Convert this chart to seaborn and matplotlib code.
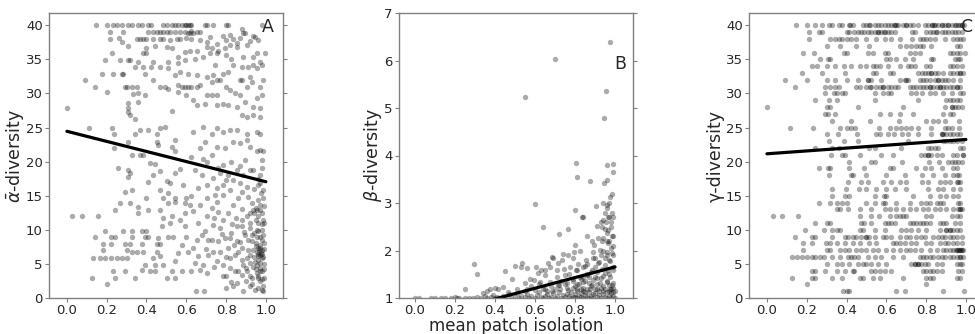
import matplotlib
matplotlib.use("Agg")
import matplotlib.pyplot as plt
import seaborn as sns
import pandas as pd

# ---------------- data ----------------
# Panel A: (mean patch isolation, mean alpha diversity)
A_pts = [
    (0.146, 40), (0.199, 40), (0.233, 40), (0.250, 40), (0.275, 40), (0.308, 40), (0.325, 40),
    (0.358, 40), (0.375, 40), (0.409, 40), (0.425, 40), (0.484, 40), (0.501, 40), (0.526, 40),
    (0.543, 40), (0.559, 40), (0.576, 40), (0.593, 40), (0.610, 40), (0.618, 40), (0.626, 40),
    (0.693, 40), (0.702, 40), (0.735, 40), (0.802, 40), (0.811, 40), (0.978, 40), (0.60, 40),
    (0.216, 39), (0.283, 39), (0.409, 39), (0.434, 39), (0.451, 39), (0.467, 39), (0.484, 39),
    (0.501, 39), (0.518, 39), (0.543, 39), (0.568, 39), (0.593, 39), (0.610, 38.9), (0.626, 39.2),
    (0.635, 38.8), (0.652, 39), (0.668, 39), (0.62, 38.9),
    (0.216, 38), (0.263, 38.2), (0.350, 38), (0.367, 38), (0.384, 38), (0.400, 38), (0.434, 38),
    (0.467, 38), (0.484, 38), (0.518, 37.9), (0.551, 38), (0.568, 38), (0.601, 38.1), (0.626, 38),
    (0.668, 37.8), (0.702, 37.6), (0.719, 38.3), (0.752, 37.2), (0.786, 38.5), (0.802, 37.9),
    (0.819, 38.6), (0.853, 37.4), (0.869, 38.1), (0.894, 38.8), (0.920, 37.7), (0.936, 38.4),
    (0.878, 39.5), (0.886, 38.8), (0.836, 38.0), (0.945, 38.3), (0.961, 37.8),
    (0.275, 37.6), (0.308, 36.9), (0.400, 36.7), (0.442, 36.9), (0.501, 36.8), (0.526, 36.7),
    (0.593, 36.1), (0.618, 36.2), (0.652, 36.3), (0.702, 36.8), (0.727, 36.6), (0.760, 36.3),
    (0.794, 36.6), (0.819, 37.1), (0.853, 36.8), (0.903, 37.1), (0.995, 35.9), (0.229, 35.9),
    (0.384, 35.9), (0.400, 35.9), (0.559, 35.4), (0.593, 34.9), (0.643, 35.0), (0.685, 35.4),
    (0.719, 35.9), (0.752, 35.9), (0.802, 35.6), (0.827, 35.1), (0.886, 35.4), (0.936, 35.4),
    (0.953, 35.9), (0.191, 34.9), (0.266, 34.9), (0.308, 34.9), (0.317, 34.9), (0.358, 34.6),
    (0.434, 34.6), (0.509, 34.6), (0.559, 34.4), (0.744, 34.1), (0.836, 34.1), (0.878, 33.9),
    (0.911, 33.9), (0.936, 34.1), (0.970, 34.6), (0.978, 34.1), (0.953, 33.7), (0.174, 32.9),
    (0.233, 32.9), (0.275, 32.9), (0.283, 32.9), (0.342, 33.9), (0.384, 33.9), (0.425, 33.9),
    (0.467, 33.9), (0.509, 33.7), (0.543, 32.7), (0.568, 33.2), (0.610, 32.9), (0.652, 32.7),
    (0.702, 32.4), (0.735, 32.7), (0.786, 32.9), (0.811, 33.2), (0.869, 32.0), (0.878, 32.0),
    (0.920, 32.4), (0.987, 32.0), (0.090, 32.0), (0.141, 31.0), (0.199, 30.2), (0.291, 31.0),
    (0.300, 31.0), (0.325, 31.0), (0.350, 31.0), (0.358, 30.0), (0.333, 29.9), (0.392, 29.8),
    (0.392, 32.9), (0.434, 32.0), (0.467, 31.0), (0.492, 31.0), (0.509, 30.7), (0.559, 31.2),
    (0.576, 31.0), (0.593, 31.0), (0.610, 31.0), (0.626, 31.0), (0.652, 31.0), (0.668, 31.2),
    (0.559, 30.2), (0.601, 29.8), (0.635, 29.0), (0.702, 29.8), (0.727, 29.8), (0.752, 29.8),
    (0.727, 31.7), (0.752, 32.0), (0.769, 32.0), (0.802, 31.0), (0.819, 30.5), (0.844, 30.0),
    (0.869, 29.8), (0.903, 31.0), (0.928, 31.7), (0.970, 31.0), (0.978, 29.8), (0.953, 29.3),
    (0.752, 28.3), (0.786, 28.5), (0.811, 28.3), (0.853, 28.0), (0.894, 28.8), (0.936, 28.0),
    (0.970, 27.8), (0.002, 27.8), (0.308, 27.8), (0.308, 27.3), (0.317, 26.8), (0.308, 28.6),
    (0.358, 28.8), (0.529, 27.4), (0.652, 28.3), (0.693, 28.5), (0.878, 26.8), (0.903, 26.6),
    (0.936, 26.8), (0.970, 26.6), (0.342, 26.3), (0.342, 24.1), (0.367, 24.6), (0.409, 24.6),
    (0.451, 24.1), (0.467, 24.9), (0.492, 25.1), (0.543, 23.2), (0.635, 24.4), (0.685, 25.1),
    (0.727, 24.0), (0.752, 24.9), (0.786, 24.4), (0.819, 24.6), (0.853, 24.6), (0.903, 24.1),
    (0.953, 24.4), (0.970, 24.1), (0.903, 23.2), (0.869, 22.7), (0.112, 24.9), (0.229, 24.9),
    (0.236, 24.1), (0.308, 22.9), (0.451, 22.9), (0.459, 22.4), (0.526, 22.2), (0.543, 21.5),
    (0.693, 22.9), (0.752, 22.2), (0.794, 22.0), (0.836, 22.9), (0.920, 22.2), (0.953, 21.5),
    (0.970, 21.7), (0.987, 21.5), (0.626, 20.7), (0.668, 22.0), (0.727, 21.0), (0.325, 21.0),
    (0.367, 21.0), (0.236, 22.0),
    (0.384, 21.0), (0.417, 19.8), (0.442, 19.6), (0.258, 19.0), (0.308, 18.8), (0.317, 18.3),
    (0.308, 17.8), (0.434, 18.0), (0.409, 17.0), (0.467, 18.6), (0.501, 17.2), (0.543, 18.3),
    (0.568, 18.9), (0.643, 18.8), (0.685, 20.4), (0.702, 20.0), (0.735, 17.6), (0.760, 19.0),
    (0.786, 19.5), (0.802, 17.3), (0.827, 20.0), (0.853, 18.8), (0.869, 19.3), (0.894, 20.2),
    (0.920, 18.8), (0.936, 18.8), (0.978, 20.2), (0.970, 16.8), (0.961, 16.6), (0.975, 15.4),
    (0.961, 14.4), (0.970, 13.7), (0.953, 12.9), (0.936, 12.9), (0.920, 12.4), (0.903, 12.0),
    (0.878, 11.5), (0.853, 10.5), (0.961, 11.0), (0.978, 10.0), (0.953, 9.0), (0.928, 9.3),
    (0.911, 8.5), (0.936, 7.1), (0.953, 6.8), (0.970, 6.3), (0.978, 7.1), (0.961, 6.1),
    (0.970, 5.1), (0.953, 4.9), (0.978, 3.9), (0.961, 2.9), (0.945, 1.2), (0.978, 1.2),
    (0.987, 1.0), (0.920, 6.3), (0.903, 5.8), (0.886, 4.9), (0.878, 3.4), (0.853, 2.2),
    (0.819, 4.4), (0.802, 3.2), (0.802, 1.5), (0.836, 1.7), (0.886, 1.0), (0.844, 6.3),
    (0.811, 7.3), (0.794, 8.8), (0.769, 10.2), (0.786, 11.5), (0.811, 12.4), (0.836, 13.7),
    (0.861, 14.6), (0.878, 15.6), (0.903, 16.3), (0.819, 15.8), (0.786, 15.1), (0.752, 14.1),
    (0.727, 13.2), (0.702, 12.0), (0.735, 10.7), (0.760, 8.3), (0.735, 6.8), (0.710, 6.3),
    (0.685, 4.9), (0.668, 4.1), (0.702, 3.6), (0.752, 5.4), (0.786, 4.9), (0.769, 6.8),
    (0.727, 8.5), (0.693, 9.8), (0.652, 8.5), (0.635, 7.3), (0.643, 5.1), (0.626, 3.9),
    (0.648, 1.0), (0.688, 1.0), (0.677, 9.3), (0.660, 11.0), (0.635, 12.7), (0.668, 13.7),
    (0.702, 14.6), (0.744, 15.1), (0.601, 14.6), (0.618, 13.7), (0.593, 12.4), (0.568, 11.5),
    (0.593, 10.5), (0.601, 9.0), (0.576, 7.8), (0.610, 6.8), (0.559, 6.6), (0.543, 5.4),
    (0.576, 3.9), (0.526, 3.9), (0.501, 2.9), (0.543, 2.9), (0.484, 4.9), (0.467, 6.1),
    (0.451, 6.8), (0.434, 5.9), (0.442, 4.9), (0.417, 3.9), (0.442, 3.9), (0.392, 4.9),
    (0.375, 4.1), (0.342, 2.9), (0.291, 3.9), (0.233, 3.9), (0.241, 2.9), (0.199, 2.0),
    (0.124, 2.9), (0.132, 5.8), (0.166, 5.9), (0.191, 5.8), (0.224, 5.9), (0.250, 5.9),
    (0.275, 5.9), (0.300, 5.9), (0.325, 6.8), (0.350, 6.8), (0.384, 6.8), (0.300, 7.1),
    (0.183, 7.0), (0.183, 7.9), (0.224, 7.9), (0.291, 7.9), (0.317, 7.9), (0.375, 7.9),
    (0.451, 7.9), (0.467, 7.9), (0.141, 8.9), (0.224, 8.9), (0.241, 8.9), (0.325, 8.9),
    (0.392, 8.9), (0.409, 8.9), (0.459, 8.8), (0.509, 8.9), (0.534, 8.9), (0.191, 9.9),
    (0.283, 9.9), (0.325, 9.9), (0.375, 9.9), (0.400, 9.9), (0.476, 10.5), (0.518, 11.0),
    (0.484, 11.7), (0.526, 12.0), (0.467, 12.9), (0.409, 12.9), (0.358, 13.4), (0.317, 13.9),
    (0.266, 13.9), (0.241, 12.9), (0.291, 15.6), (0.325, 15.8), (0.358, 12.4), (0.400, 14.6),
    (0.467, 15.8), (0.509, 15.4), (0.509, 13.9), (0.543, 14.6), (0.543, 14.1), (0.593, 13.9),
    (0.518, 16.8), (0.484, 14.6), (0.585, 16.6), (0.660, 16.1), (0.626, 14.9), (0.028, 12.0),
    (0.074, 12.0), (0.157, 12.0), (0.710, 8.5), (0.853, 8.3), (0.878, 7.3), (0.894, 9.3),
    (0.827, 9.5), (0.878, 10.5), (0.920, 11.0), (0.844, 3.9), (0.903, 3.9), (0.920, 3.2),
    (0.928, 2.0), (0.827, 2.4), (0.786, 3.2), (0.961, 5.6), (0.978, 5.8), (0.970, 4.4),
    (0.953, 3.6), (0.936, 4.6), (0.987, 1.7), (0.970, 7.8), (0.978, 8.5), (0.987, 9.3),
    (0.953, 10.0), (0.961, 12.0), (0.978, 12.4), (0.983, 14.6), (0.987, 15.8), (0.970, 18.0),
    (0.886, 18.0), (0.869, 16.8), (0.836, 17.3), (0.786, 16.6), (0.769, 18.3), (0.702, 16.6),
    (0.677, 18.0), (0.752, 16.1), (0.811, 18.0),
    (0.965, 7.0), (0.975, 6.6), (0.985, 6.0), (0.958, 7.4), (0.945, 5.3), (0.99, 5.0),
    (0.96, 3.3), (0.97, 2.5), (0.99, 3.0), (0.95, 8.0), (0.985, 11.5), (0.94, 12.5),
    (0.93, 14.0), (0.95, 13.2), (0.97, 12.9), (0.99, 13.5), (0.92, 10.2), (0.94, 9.6),
    (0.96, 9.8), (0.98, 10.8), (0.99, 8.0), (0.95, 7.6), (0.97, 7.3), (0.99, 7.2), (0.96, 6.5),
    (0.98, 6.4), (0.94, 6.0), (0.92, 5.2), (0.95, 4.2), (0.97, 4.0), (0.99, 4.3), (0.93, 3.0),
    (0.98, 2.8), (0.96, 1.5), (0.90, 2.5), (0.88, 5.6), (0.86, 6.8), (0.84, 7.8), (0.82, 8.8),
    (0.80, 6.0), (0.78, 9.4), (0.76, 12.6), (0.74, 11.8), (0.88, 13.0), (0.91, 14.8),
    (0.94, 16.0), (0.96, 17.5), (0.98, 19.0), (0.85, 11.8), (0.83, 10.8), (0.89, 9.7),
    (0.87, 8.2), (0.91, 7.0), (0.93, 8.4), (0.97, 9.0), (0.99, 11.0), (0.95, 11.5),
    (0.90, 4.4), (0.92, 1.8), (0.86, 4.0), (0.82, 5.8), (0.74, 4.6), (0.70, 7.2), (0.66, 6.2),
]

# Panel B: (mean patch isolation, beta diversity)
B_pts = [
    (0.975, 6.39), (0.70, 6.04), (0.55, 5.24), (0.955, 5.36), (0.945, 4.78),
    (0.803, 3.84), (0.812, 3.54), (0.875, 3.47), (0.962, 3.81), (0.988, 3.83), (0.988, 3.65),
    (0.945, 3.43), (0.962, 3.48), (0.983, 3.20), (0.975, 3.13), (0.972, 3.01), (0.942, 3.01),
    (0.958, 2.96), (0.903, 2.94), (0.600, 2.98), (0.800, 2.85), (0.833, 2.71), (0.838, 2.71),
    (0.950, 2.78), (0.983, 2.78), (0.967, 2.70), (0.955, 2.61), (0.980, 2.61), (0.908, 2.52),
    (0.933, 2.50), (0.967, 2.43), (0.642, 2.50), (0.767, 2.45), (0.722, 2.35), (0.862, 2.31),
    (0.958, 2.36), (0.987, 2.31), (0.917, 2.26), (0.942, 2.26), (0.887, 2.19), (0.933, 2.19),
    (0.967, 2.15), (0.988, 2.09), (0.897, 2.12), (0.800, 2.12), (0.825, 1.99), (0.797, 1.97),
    (0.892, 1.97), (0.925, 2.01), (0.958, 1.97), (0.983, 1.94), (0.742, 1.92), (0.767, 1.91),
    (0.692, 1.84), (0.733, 1.80), (0.792, 1.84), (0.855, 1.81), (0.900, 1.84), (0.950, 1.84),
    (0.975, 1.77), (0.917, 1.73), (0.858, 1.71), (0.817, 1.71), (0.713, 1.73), (0.683, 1.86),
    (0.667, 1.74), (0.533, 1.73), (0.530, 1.65), (0.558, 1.64), (0.605, 1.65), (0.630, 1.60),
    (0.652, 1.59), (0.675, 1.65), (0.708, 1.59), (0.745, 1.61), (0.775, 1.65), (0.805, 1.60),
    (0.842, 1.66), (0.883, 1.59), (0.933, 1.62), (0.967, 1.59), (0.992, 1.66), (0.500, 1.68),
    (0.450, 1.57), (0.297, 1.72), (0.308, 1.51), (0.483, 1.39), (0.575, 1.41), (0.617, 1.52),
    (0.650, 1.48), (0.708, 1.45), (0.750, 1.48), (0.792, 1.41), (0.825, 1.45), (0.858, 1.48),
    (0.900, 1.45), (0.942, 1.46), (0.975, 1.45), (0.550, 1.31), (0.595, 1.38), (0.625, 1.34),
    (0.675, 1.34), (0.717, 1.27), (0.758, 1.31), (0.808, 1.30), (0.842, 1.34), (0.883, 1.27),
    (0.925, 1.31), (0.958, 1.34), (0.987, 1.27), (0.442, 1.24), (0.417, 1.18), (0.375, 1.19),
    (0.400, 1.22), (0.358, 1.15), (0.342, 1.11), (0.250, 1.19), (0.467, 1.13), (0.508, 1.18),
    (0.558, 1.20), (0.600, 1.17), (0.642, 1.18), (0.683, 1.15), (0.725, 1.18), (0.767, 1.17),
    (0.808, 1.18), (0.842, 1.15), (0.875, 1.20), (0.908, 1.18), (0.942, 1.15), (0.975, 1.18),
    (0.992, 1.13),
    (0.0, 1.0), (0.02, 1.0), (0.08, 1.0), (0.10, 1.0), (0.13, 1.01), (0.15, 1.0), (0.18, 1.01),
    (0.20, 1.03), (0.21, 1.01), (0.22, 1.0), (0.25, 1.0), (0.27, 1.01), (0.29, 1.0), (0.31, 1.02),
    (0.33, 1.0), (0.35, 1.04), (0.36, 1.01), (0.38, 1.02), (0.39, 1.06), (0.40, 1.0), (0.41, 1.03),
    (0.42, 1.01), (0.44, 1.05), (0.45, 1.02), (0.47, 1.08), (0.48, 1.0), (0.50, 1.03), (0.51, 1.1),
    (0.52, 1.0), (0.53, 1.05), (0.55, 1.02), (0.56, 1.09), (0.57, 1.0), (0.58, 1.04), (0.60, 1.01),
    (0.61, 1.07), (0.62, 1.12), (0.63, 1.02), (0.64, 1.0), (0.65, 1.05), (0.66, 1.09), (0.67, 1.01),
    (0.68, 1.03), (0.69, 1.1), (0.70, 1.0),
    (0.71, 1.04), (0.72, 1.12), (0.73, 1.0), (0.74, 1.07), (0.75, 1.02), (0.76, 1.21), (0.77, 1.05),
    (0.78, 1.0), (0.78, 1.12), (0.79, 1.03), (0.80, 1.08), (0.80, 1.25), (0.81, 1.0), (0.81, 1.15),
    (0.82, 1.05), (0.82, 1.3), (0.83, 1.02), (0.83, 1.1), (0.84, 1.22), (0.84, 1.0), (0.85, 1.07),
    (0.85, 1.35), (0.86, 1.03), (0.86, 1.18), (0.87, 1.0), (0.87, 1.12), (0.88, 1.26), (0.88, 1.05),
    (0.89, 1.0), (0.89, 1.38), (0.90, 1.1), (0.90, 1.2), (0.91, 1.02), (0.91, 1.3), (0.92, 1.06),
    (0.92, 1.15), (0.93, 1.0), (0.93, 1.42), (0.94, 1.08), (0.94, 1.25), (0.95, 1.03), (0.95, 1.18),
    (0.96, 1.0), (0.96, 1.35), (0.96, 1.12), (0.97, 1.05), (0.97, 1.28), (0.97, 1.5), (0.98, 1.0),
    (0.98, 1.2), (0.98, 1.1), (0.99, 1.04), (0.99, 1.32), (0.99, 1.6), (1.0, 1.0), (1.0, 1.15),
    (0.75, 1.3), (0.79, 1.35), (0.83, 1.4), (0.87, 1.45), (0.91, 1.55), (0.95, 1.7), (0.97, 1.8),
    (0.99, 1.9), (0.98, 2.05), (0.96, 1.9), (0.94, 2.0), (0.92, 1.75), (0.90, 1.65), (0.88, 1.55),
    (0.86, 1.5), (0.84, 1.45), (0.70, 1.2), (0.68, 1.25), (0.65, 1.2), (0.62, 1.3), (0.58, 1.25),
    (0.55, 1.15), (0.73, 1.35), (0.77, 1.5), (0.81, 1.6), (0.85, 1.68), (0.89, 1.85), (0.93, 1.9),
    (0.97, 2.2), (0.99, 2.3), (0.95, 2.45), (0.93, 2.6), (0.98, 2.5), (0.96, 2.2), (0.99, 2.7),
    (0.94, 2.65), (0.96, 2.9), (0.97, 2.7),
    (0.76, 1.08), (0.80, 1.02), (0.85, 1.12), (0.89, 1.08), (0.93, 1.22), (0.97, 1.14), (0.99, 1.22),
    (0.72, 1.28), (0.66, 1.15), (0.87, 1.32), (0.91, 1.42), (0.95, 1.52), (0.83, 1.2), (0.79, 1.22),
]

# Panel C: gamma diversity (integer levels) -> isolation values read per level
g40 = [0.145, 0.20, 0.24, 0.275, 0.31, 0.325, 0.36, 0.375, 0.415, 0.435, 0.485, 0.50, 0.515, 0.545,
       0.56, 0.575, 0.595, 0.61, 0.625, 0.645, 0.66, 0.685, 0.70, 0.72, 0.735, 0.76, 0.795, 0.81,
       0.83, 0.845, 0.86, 0.88, 0.895, 0.91, 0.93, 0.945, 0.96, 0.98, 0.99,
       0.42, 0.52, 0.64, 0.65, 0.70, 0.83, 0.84, 0.88, 0.91, 0.95, 0.97, 0.98]
g39 = [0.21, 0.26, 0.275, 0.40, 0.415, 0.44, 0.46, 0.475, 0.49, 0.51, 0.525, 0.545, 0.56, 0.575,
       0.595, 0.61, 0.625, 0.645, 0.73, 0.745, 0.80, 0.82, 0.835, 0.855, 0.88, 0.895, 0.91, 0.93,
       0.945, 0.96, 0.98, 0.56, 0.59, 0.85]
g38 = [0.21, 0.315, 0.34, 0.36, 0.375, 0.40, 0.425, 0.45, 0.50, 0.55, 0.595, 0.625, 0.67, 0.73,
       0.77, 0.785, 0.80, 0.82, 0.845, 0.895, 0.935, 0.955, 0.97, 0.985]
g37 = [0.30, 0.365, 0.45, 0.515, 0.67, 0.70, 0.725, 0.75, 0.77, 0.785, 0.825, 0.955, 0.97]
g36 = [0.18, 0.235, 0.385, 0.40, 0.51, 0.535, 0.595, 0.61, 0.72, 0.745, 0.77, 0.92, 0.935, 0.955,
       0.97, 0.995]
g35 = [0.265, 0.305, 0.315, 0.60, 0.62, 0.65, 0.695, 0.735, 0.825, 0.835, 0.945, 0.96, 0.97]
g34 = [0.225, 0.25, 0.30, 0.34, 0.385, 0.425, 0.47, 0.50, 0.535, 0.55, 0.57, 0.61, 0.67, 0.71,
       0.725, 0.745, 0.80, 0.82, 0.92, 0.935, 0.955, 0.98]
g33 = [0.175, 0.275, 0.39, 0.535, 0.55, 0.62, 0.635, 0.76, 0.78, 0.795, 0.81, 0.825, 0.845, 0.86,
       0.885, 0.92, 0.935, 0.955, 0.97, 0.985, 0.825, 0.97]
g32 = [0.09, 0.20, 0.30, 0.34, 0.40, 0.46, 0.51, 0.525, 0.575, 0.67, 0.695, 0.71, 0.77, 0.785,
       0.80, 0.82, 0.845, 0.86, 0.88, 0.895, 0.91, 0.935, 0.97, 0.51, 0.70, 0.86]
g31 = [0.14, 0.29, 0.315, 0.34, 0.36, 0.45, 0.47, 0.50, 0.525, 0.55, 0.57, 0.585, 0.61, 0.625,
       0.645, 0.66, 0.72, 0.735, 0.75, 0.77, 0.785, 0.80, 0.82, 0.835, 0.855, 0.87, 0.885, 0.90,
       0.92, 0.935, 0.955, 0.97, 0.52, 0.585, 0.82, 0.87, 0.955]
g30 = [0.29, 0.335, 0.35, 0.375, 0.39, 0.545, 0.585, 0.61, 0.625, 0.725, 0.75, 0.78, 0.82, 0.845,
       0.885, 0.93, 0.97, 0.985]
g29 = [0.24, 0.31, 0.35, 0.545, 0.76, 0.90, 0.92, 0.935, 0.955, 0.97]
g28 = [0.0, 0.30, 0.315, 0.46, 0.685, 0.895, 0.93, 0.945, 0.96, 0.98, 0.93]
g27 = [0.29, 0.305, 0.34, 0.57, 0.62, 0.67, 0.735, 0.885, 0.92, 0.935]
g26 = [0.325, 0.425, 0.52, 0.665, 0.80, 0.835, 0.86, 0.895, 0.965]
g25 = [0.115, 0.23, 0.365, 0.405, 0.425, 0.445, 0.565, 0.62, 0.65, 0.675, 0.70, 0.725, 0.76,
       0.825, 0.895, 0.91, 0.93, 0.965]
g24 = [0.30, 0.355, 0.455, 0.55, 0.57, 0.61, 0.64, 0.68, 0.71, 0.76, 0.825, 0.88, 0.885, 0.90,
       0.92, 0.935, 0.955, 0.97, 0.88]
g23 = [0.31, 0.385, 0.46, 0.71, 0.885, 0.90, 0.92, 0.935, 0.955, 0.98]
g22 = [0.24, 0.325, 0.36, 0.515, 0.545, 0.675, 0.81, 0.825, 0.845, 0.86, 0.97, 0.985]
g21 = [0.32, 0.375, 0.39, 0.47, 0.575, 0.635, 0.775, 0.795, 0.81, 0.825, 0.855, 0.88, 0.935,
       0.955, 0.985, 0.81, 0.985]
g20 = [0.415, 0.525, 0.545, 0.68, 0.815, 0.865, 0.91, 0.93, 0.945, 0.96, 0.98]
g19 = [0.26, 0.305, 0.315, 0.415, 0.49, 0.62, 0.635, 0.75, 0.795, 0.825, 0.88, 0.935, 0.955]
g18 = [0.31, 0.425, 0.435, 0.50, 0.60, 0.695, 0.78, 0.835, 0.895, 0.935, 0.955, 0.965]
g17 = [0.41, 0.475, 0.51, 0.585, 0.625, 0.67, 0.70, 0.78, 0.81, 0.87, 0.895, 0.92, 0.955, 0.97,
       0.96]
g16 = [0.325, 0.395, 0.465, 0.50, 0.55, 0.60, 0.645, 0.70, 0.81, 0.86, 0.885, 0.935, 0.97]
g15 = [0.325, 0.39, 0.415, 0.545, 0.59, 0.60, 0.735, 0.82, 0.87, 0.90, 0.935, 0.96]
g14 = [0.26, 0.315, 0.35, 0.375, 0.405, 0.50, 0.545, 0.585, 0.595, 0.65, 0.72, 0.775, 0.80, 0.82,
       0.855, 0.87, 0.885, 0.96, 0.97]
g13 = [0.35, 0.365, 0.41, 0.47, 0.525, 0.595, 0.62, 0.65, 0.685, 0.72, 0.75, 0.785, 0.81, 0.845,
       0.87, 0.90, 0.935, 0.96, 0.97, 0.98, 0.97]
g12 = [0.03, 0.075, 0.155, 0.47, 0.525, 0.565, 0.62, 0.65, 0.67, 0.685, 0.70, 0.80, 0.825, 0.93,
       0.955, 0.97]
g11 = [0.24, 0.30, 0.315, 0.475, 0.49, 0.525, 0.595, 0.61, 0.625, 0.645, 0.72, 0.735, 0.75, 0.77,
       0.785, 0.80, 0.82, 0.87, 0.885, 0.90, 0.945, 0.97]
g10 = [0.19, 0.285, 0.325, 0.35, 0.365, 0.47, 0.485, 0.545, 0.595, 0.675, 0.70, 0.725, 0.76,
       0.80, 0.87, 0.90, 0.92, 0.935, 0.955, 0.97, 0.90, 0.92]
g9 = [0.14, 0.225, 0.24, 0.325, 0.39, 0.41, 0.435, 0.45, 0.475, 0.50, 0.515, 0.545, 0.585, 0.60,
      0.625, 0.67, 0.70, 0.72, 0.75, 0.775, 0.795, 0.835, 0.86, 0.88, 0.895, 0.92, 0.935, 0.955,
      0.98, 0.50]
g8 = [0.18, 0.225, 0.295, 0.315, 0.35, 0.39, 0.435, 0.47, 0.515, 0.55, 0.635, 0.65, 0.67, 0.695,
      0.725, 0.75, 0.80, 0.825, 0.87, 0.895, 0.91, 0.935, 0.955, 0.98]
g7 = [0.18, 0.30, 0.315, 0.365, 0.39, 0.415, 0.45, 0.475, 0.50, 0.535, 0.56, 0.60, 0.635, 0.67,
      0.70, 0.72, 0.745, 0.775, 0.82, 0.855, 0.885, 0.90, 0.92, 0.935, 0.955, 0.97, 0.98, 0.95,
      0.96, 0.975, 0.985, 0.965]
g6 = [0.125, 0.15, 0.175, 0.20, 0.225, 0.24, 0.265, 0.285, 0.325, 0.365, 0.41, 0.425, 0.44,
      0.46, 0.51, 0.545, 0.575, 0.635, 0.685, 0.77, 0.785, 0.80, 0.82, 0.835, 0.86, 0.88, 0.895,
      0.92, 0.935, 0.955, 0.97, 0.985, 0.97]
g5 = [0.30, 0.35, 0.375, 0.415, 0.46, 0.485, 0.50, 0.525, 0.56, 0.60, 0.725, 0.745, 0.76, 0.775,
      0.795, 0.81, 0.855, 0.88, 0.955, 0.97, 0.98, 0.745, 0.76]
g4 = [0.225, 0.24, 0.29, 0.35, 0.39, 0.435, 0.44, 0.525, 0.545, 0.57, 0.595, 0.625, 0.785, 0.80,
      0.82, 0.835, 0.855, 0.88, 0.96, 0.98]
g3 = [0.125, 0.225, 0.24, 0.325, 0.375, 0.47, 0.485, 0.535, 0.57, 0.685, 0.80, 0.82, 0.835,
      0.955, 0.97]
g2 = [0.20, 0.80]
g1 = [0.38, 0.40, 0.415, 0.65, 0.695, 0.885, 0.99]

C_levels = list(range(40, 0, -1))
C_rows = [g40, g39, g38, g37, g36, g35, g34, g33, g32, g31, g30, g29, g28, g27, g26, g25, g24,
          g23, g22, g21, g20, g19, g18, g17, g16, g15, g14, g13, g12, g11, g10, g9, g8, g7, g6,
          g5, g4, g3, g2, g1]

# Fitted regression lines (endpoints)
fit_x = [0.0, 1.0]
A_fit = [24.45, 17.05]
B_fit = [0.53, 1.655]
C_fit = [21.15, 23.25]

x_ticks = [0.0, 0.2, 0.4, 0.6, 0.8, 1.0]
A_ticks = [0, 5, 10, 15, 20, 25, 30, 35, 40]
B_ticks = [1, 2, 3, 4, 5, 6, 7]
C_ticks = [0, 5, 10, 15, 20, 25, 30, 35, 40]

# ---------------- tables ----------------
dfA = pd.DataFrame(A_pts, columns=["iso", "val"])
dfB = pd.DataFrame(B_pts, columns=["iso", "val"])
c_iso, c_val = [], []
for lev, row in zip(C_levels, C_rows):
    for xv in row:
        c_iso.append(xv)
        c_val.append(lev)
dfC = pd.DataFrame({"iso": c_iso, "val": c_val})

# ---------------- figure ----------------
sns.set_style("white")
plt.rcParams["font.family"] = ["DejaVu Sans"]
plt.rcParams["mathtext.fontset"] = "dejavusans"

fig = plt.figure(figsize=(9.75, 3.34), dpi=100)
bottom, height, width = 36 / 334, 285 / 334, 234 / 975
axA = fig.add_axes([49 / 975, bottom, width, height])
axB = fig.add_axes([399 / 975, bottom, width, height])
axC = fig.add_axes([749 / 975, bottom, width, height])

panels = [
    (axA, dfA, A_fit, A_ticks, (0, 41.8), (-0.09, 1.086), r"$\bar{\alpha}$-diversity", -0.10, "A", (0.936, 0.951)),
    (axB, dfB, B_fit, B_ticks, (1, 7), (-0.08, 1.09), r"$\beta$-diversity", -0.065, "B", (0.944, 0.821)),
    (axC, dfC, C_fit, C_ticks, (0, 41.8), (-0.09, 1.086), "γ-diversity", -0.105, "C", (0.93, 0.951)),
]

for ax, df, fit, yt, ylim, xlim, ylab, ylx, letter, lpos in panels:
    sns.scatterplot(data=df, x="iso", y="val", ax=ax, color="black", alpha=0.33,
                    s=15, linewidth=0, legend=False)
    sns.lineplot(x=fit_x, y=fit, ax=ax, color="black", linewidth=2.3)
    ax.set_xlim(*xlim)
    ax.set_ylim(*ylim)
    ax.set_xticks(x_ticks)
    ax.set_xticklabels([f"{t:.1f}" for t in x_ticks])
    ax.set_yticks(yt)
    ax.set_yticklabels([str(t) for t in yt])
    ax.set_xlabel("")
    ax.set_ylabel(ylab, fontsize=12.5)
    ax.yaxis.set_label_coords(ylx, 0.5)
    for sp in ax.spines.values():
        sp.set_visible(True)
        sp.set_color("#808080")
        sp.set_linewidth(1.0)
    ax.tick_params(axis="both", direction="out", length=3, width=0.8, color="#808080",
                   labelsize=9.5, pad=1.5, left=True, bottom=True, right=True, top=False,
                   labelright=False)
    ax.text(lpos[0], lpos[1], letter, transform=ax.transAxes, ha="center", va="center",
            fontsize=12.5)

axB.set_xlabel("mean patch isolation", fontsize=12)
axB.xaxis.set_label_coords(0.5, -0.068)

fig.savefig("out.png", dpi=100)
